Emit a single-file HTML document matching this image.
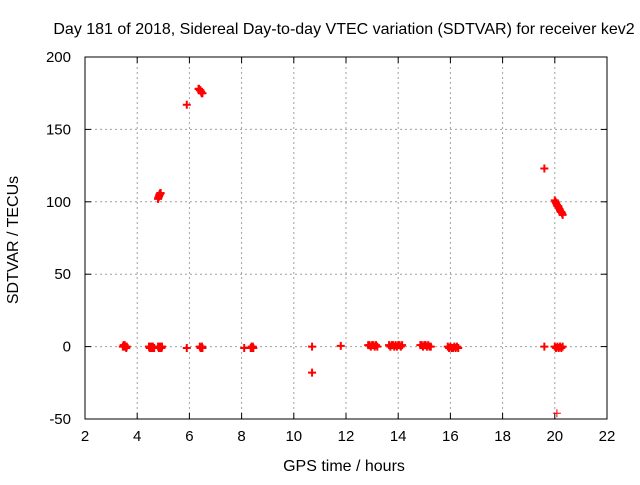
<!DOCTYPE html>
<html><head><meta charset="utf-8"><style>
body{margin:0;background:#fff;}
svg text{font-family:"Liberation Sans",sans-serif;font-size:15px;fill:#000;}
svg text.big{font-size:16px;}
</style></head><body>
<svg id="chart" width="640" height="480" xmlns="http://www.w3.org/2000/svg">
<rect width="640" height="480" fill="#fff"/>
<text class="big" x="344" y="34" text-anchor="middle">Day 181 of 2018, Sidereal Day-to-day VTEC variation (SDTVAR) for receiver kev2</text>
<g id="grid"></g><g id="axes"></g><g id="marks"></g>
<text class="big" x="344" y="471" text-anchor="middle">GPS time / hours</text>
<text class="big" transform="translate(18,240) rotate(-90)" text-anchor="middle">SDTVAR / TECUs</text>
</svg>
<script>
const xTicks=[2,4,6,8,10,12,14,16,18,20,22];
const yTicks=[-50,0,50,100,150,200];
const hours=[3.45,3.48,3.5,3.52,3.55,3.58,3.6,4.45,4.48,4.5,4.52,4.55,4.58,4.6,4.62,4.65,4.8,4.83,4.85,4.88,4.9,4.93,4.95,5.9,6.4,6.43,6.45,6.48,6.5,8.1,8.35,8.38,8.4,8.43,8.45,10.7,10.7,11.8,
12.85,12.9,12.95,13.0,13.05,13.1,13.15,13.2,13.65,13.7,13.75,13.8,13.85,13.9,13.95,14.0,14.05,14.1,14.15,14.85,14.9,14.95,15.0,15.05,15.1,15.15,15.2,15.25,15.9,15.95,16.0,16.05,16.1,16.15,16.2,16.25,16.3,19.6,20.0,20.05,20.1,20.15,20.2,20.25,20.3,
4.8,4.81,4.82,4.84,4.85,4.87,4.88,4.9,5.9,6.35,6.37,6.4,6.42,6.45,6.47,6.5,19.6,20.0,20.03,20.05,20.08,20.1,20.13,20.15,20.18,20.2,20.23,20.25,20.28,20.3];
const values=[0,1,0,1,0,-1,0,0,-1,0,-1,0,-1,0,-1,-1,0,-1,0,-1,0,-1,0,-1,0,-1,-1,0,-1,-1,-1,0,-1,0,-1,0,-18,0.5,
1,1,0,1,1,0,1,0,1,0,1,1,0,1,0,1,1,0,1,1,1,0,1,1,0,1,0,0,0,-1,0,-1,-1,0,-1,0,-1,0,0,-1,0,-1,0,-1,0,
102,103,103,104,105,105,106,106,167,178,178,177,177,176,175,175,123,101,100,99,98,97,97,96,95,94,93,93,92,91];
const thin=[[20.08,-46]];
const X0=85,X1=607,Y0=419,Y1=57;
const xs=h=>X0+(h-2)/20*(X1-X0);
const ys=v=>Y0-(v+50)/250*(Y0-Y1);
const NS="http://www.w3.org/2000/svg";
function mk(t,a,p){const e=document.createElementNS(NS,t);for(const k in a)e.setAttribute(k,a[k]);p.appendChild(e);return e;}
const grid=document.getElementById('grid'),axes=document.getElementById('axes'),marks=document.getElementById('marks');
xTicks.forEach(t=>{const x=xs(t);
 if(t>2&&t<22){const g=mk('line',{x1:x,x2:x,y1:Y1,y2:Y0,stroke:'#a0a0a0','stroke-dasharray':'2,3'},grid);
 
 }
 mk('line',{x1:x,x2:x,y1:Y0,y2:Y0-6,stroke:'#000'},axes);mk('line',{x1:x,x2:x,y1:Y1,y2:Y1+6,stroke:'#000'},axes);
 const l=mk('text',{x:x,y:Y0+22,'text-anchor':'middle'},axes);l.textContent=t;
 
 });
yTicks.forEach(t=>{const y=ys(t);
 if(t>-50&&t<200){const g=mk('line',{x1:X0,x2:X1,y1:y,y2:y,stroke:'#a0a0a0','stroke-dasharray':'2,3'},grid);
 
 }
 mk('line',{x1:X0,x2:X0+6,y1:y,y2:y,stroke:'#000'},axes);mk('line',{x1:X1,x2:X1-6,y1:y,y2:y,stroke:'#000'},axes);
 const l=mk('text',{x:X0-14,y:y+5,'text-anchor':'end'},axes);l.textContent=t;
 
 });
const fr=mk('rect',{x:X0,y:Y1,width:X1-X0,height:Y0-Y1,fill:'none',stroke:'#000'},axes);


hours.forEach((h,i)=>{const x=xs(h),y=ys(values[i]);
 const p=mk('path',{d:`M${x-4},${y}H${x+4}M${x},${y-4}V${y+4}`,stroke:'#f00','stroke-width':2},marks);
 
 });
thin.forEach(d=>{const x=xs(d[0]),y=ys(d[1]);
 const p=mk('path',{d:`M${x-4},${y}H${x+4}M${x},${y-4}V${y+4}`,stroke:'#f00','stroke-width':1},marks);
 
 });
</script>
</body></html>
